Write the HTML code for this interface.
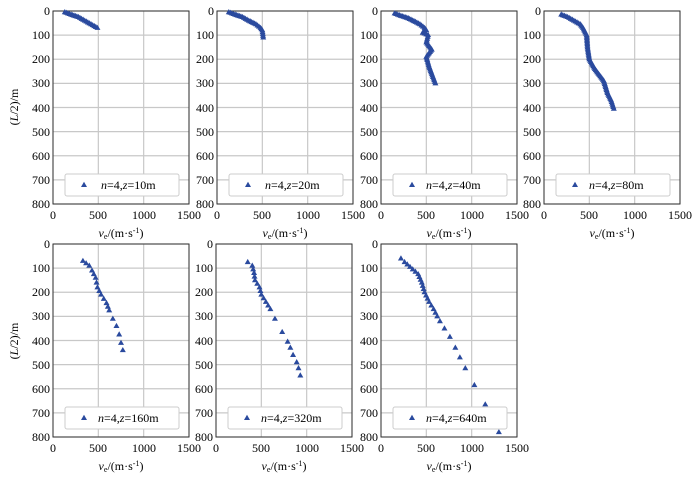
<!DOCTYPE html>
<html><head><meta charset="utf-8"><style>
body{margin:0;background:#fff}
svg, svg text, svg tspan{font-family:"Liberation Serif","Times New Roman",serif !important}
svg{font-size:12px}
.yl text{text-anchor:end}
.xl text{text-anchor:middle}
</style></head><body>
<svg id="s" width="700" height="480" viewBox="0 0 700 480" font-family="Liberation Serif, serif">
<rect width="700" height="480" fill="#fff"/>
<g id="p0" transform="translate(53,11)"></g>
<g id="p1" transform="translate(217,11)"></g>
<g id="p2" transform="translate(381,11)"></g>
<g id="p3" transform="translate(544,11)"></g>
<g id="p4" transform="translate(53,244)"></g>
<g id="p5" transform="translate(216,244)"></g>
<g id="p6" transform="translate(381,244)"></g>
<g id="L0" transform="translate(53,11)"><g class="yl"><text x="-3" y="4">0</text><text x="-3" y="28">100</text><text x="-3" y="52">200</text><text x="-3" y="76">300</text><text x="-3" y="101">400</text><text x="-3" y="125">500</text><text x="-3" y="149">600</text><text x="-3" y="173">700</text><text x="-3" y="197">800</text></g><g class="xl"><text x="0" y="208">0</text><text x="45" y="208">500</text><text x="91" y="208">1000</text><text x="136" y="208">1500</text><text x="68" y="226"><tspan font-style="italic">v</tspan><tspan font-size="8" dy="2">e</tspan><tspan dy="-2">/(m·s</tspan><tspan font-size="8" dy="-4">-1</tspan><tspan dy="4">)</tspan></text></g><text x="48" y="178"><tspan font-style="italic">n</tspan>=4,<tspan font-style="italic">z</tspan>=10m</text></g>
<g id="L1" transform="translate(217,11)"><g class="yl"><text x="-3" y="4">0</text><text x="-3" y="28">100</text><text x="-3" y="52">200</text><text x="-3" y="76">300</text><text x="-3" y="101">400</text><text x="-3" y="125">500</text><text x="-3" y="149">600</text><text x="-3" y="173">700</text><text x="-3" y="197">800</text></g><g class="xl"><text x="0" y="208">0</text><text x="45" y="208">500</text><text x="91" y="208">1000</text><text x="136" y="208">1500</text><text x="68" y="226"><tspan font-style="italic">v</tspan><tspan font-size="8" dy="2">e</tspan><tspan dy="-2">/(m·s</tspan><tspan font-size="8" dy="-4">-1</tspan><tspan dy="4">)</tspan></text></g><text x="48" y="178"><tspan font-style="italic">n</tspan>=4,<tspan font-style="italic">z</tspan>=20m</text></g>
<g id="L2" transform="translate(381,11)"><g class="yl"><text x="-3" y="4">0</text><text x="-3" y="28">100</text><text x="-3" y="52">200</text><text x="-3" y="76">300</text><text x="-3" y="101">400</text><text x="-3" y="125">500</text><text x="-3" y="149">600</text><text x="-3" y="173">700</text><text x="-3" y="197">800</text></g><g class="xl"><text x="0" y="208">0</text><text x="45" y="208">500</text><text x="91" y="208">1000</text><text x="136" y="208">1500</text><text x="68" y="226"><tspan font-style="italic">v</tspan><tspan font-size="8" dy="2">e</tspan><tspan dy="-2">/(m·s</tspan><tspan font-size="8" dy="-4">-1</tspan><tspan dy="4">)</tspan></text></g><text x="45" y="178"><tspan font-style="italic">n</tspan>=4,<tspan font-style="italic">z</tspan>=40m</text></g>
<g id="L3" transform="translate(544,11)"><g class="yl"><text x="-3" y="4">0</text><text x="-3" y="28">100</text><text x="-3" y="52">200</text><text x="-3" y="76">300</text><text x="-3" y="101">400</text><text x="-3" y="125">500</text><text x="-3" y="149">600</text><text x="-3" y="173">700</text><text x="-3" y="197">800</text></g><g class="xl"><text x="0" y="208">0</text><text x="45" y="208">500</text><text x="91" y="208">1000</text><text x="136" y="208">1500</text><text x="68" y="226"><tspan font-style="italic">v</tspan><tspan font-size="8" dy="2">e</tspan><tspan dy="-2">/(m·s</tspan><tspan font-size="8" dy="-4">-1</tspan><tspan dy="4">)</tspan></text></g><text x="45" y="178"><tspan font-style="italic">n</tspan>=4,<tspan font-style="italic">z</tspan>=80m</text></g>
<g id="L4" transform="translate(53,244)"><g class="yl"><text x="-3" y="4">0</text><text x="-3" y="28">100</text><text x="-3" y="52">200</text><text x="-3" y="76">300</text><text x="-3" y="101">400</text><text x="-3" y="125">500</text><text x="-3" y="149">600</text><text x="-3" y="173">700</text><text x="-3" y="197">800</text></g><g class="xl"><text x="0" y="208">0</text><text x="45" y="208">500</text><text x="91" y="208">1000</text><text x="136" y="208">1500</text><text x="68" y="226"><tspan font-style="italic">v</tspan><tspan font-size="8" dy="2">e</tspan><tspan dy="-2">/(m·s</tspan><tspan font-size="8" dy="-4">-1</tspan><tspan dy="4">)</tspan></text></g><text x="45" y="178"><tspan font-style="italic">n</tspan>=4,<tspan font-style="italic">z</tspan>=160m</text></g>
<g id="L5" transform="translate(216,244)"><g class="yl"><text x="-3" y="4">0</text><text x="-3" y="28">100</text><text x="-3" y="52">200</text><text x="-3" y="76">300</text><text x="-3" y="101">400</text><text x="-3" y="125">500</text><text x="-3" y="149">600</text><text x="-3" y="173">700</text><text x="-3" y="197">800</text></g><g class="xl"><text x="0" y="208">0</text><text x="45" y="208">500</text><text x="91" y="208">1000</text><text x="136" y="208">1500</text><text x="68" y="226"><tspan font-style="italic">v</tspan><tspan font-size="8" dy="2">e</tspan><tspan dy="-2">/(m·s</tspan><tspan font-size="8" dy="-4">-1</tspan><tspan dy="4">)</tspan></text></g><text x="45" y="178"><tspan font-style="italic">n</tspan>=4,<tspan font-style="italic">z</tspan>=320m</text></g>
<g id="L6" transform="translate(381,244)"><g class="yl"><text x="-3" y="4">0</text><text x="-3" y="28">100</text><text x="-3" y="52">200</text><text x="-3" y="76">300</text><text x="-3" y="101">400</text><text x="-3" y="125">500</text><text x="-3" y="149">600</text><text x="-3" y="173">700</text><text x="-3" y="197">800</text></g><g class="xl"><text x="0" y="208">0</text><text x="45" y="208">500</text><text x="91" y="208">1000</text><text x="136" y="208">1500</text><text x="68" y="226"><tspan font-style="italic">v</tspan><tspan font-size="8" dy="2">e</tspan><tspan dy="-2">/(m·s</tspan><tspan font-size="8" dy="-4">-1</tspan><tspan dy="4">)</tspan></text></g><text x="45" y="178"><tspan font-style="italic">n</tspan>=4,<tspan font-style="italic">z</tspan>=640m</text></g>
<text transform="translate(18,107) rotate(-90)" text-anchor="middle">(<tspan font-style="italic">L</tspan>/2)/m</text>
<text transform="translate(18,341) rotate(-90)" text-anchor="middle">(<tspan font-style="italic">L</tspan>/2)/m</text>
</svg>
<script>
var NS="http://www.w3.org/2000/svg";
function el(p,t,a){var e=document.createElementNS(NS,t);for(var k in a)e.setAttribute(k,a[k]);p.appendChild(e);return e;}
var W=136,H=193;
var data=[
 [[130,5],[200,15],[280,25],[350,40],[420,55],[490,70]],
 [[130,5],[200,15],[280,25],[350,40],[430,55],[480,70],[500,80],[510,110]],
 [[150,10],[220,20],[300,30],[380,45],[430,55],[480,70],[500,80],[460,90],[520,100],[500,130],[560,160],[500,190],[530,230],[560,260],[600,300]],
 [[190,15],[260,25],[330,40],[400,55],[430,70],[470,100],[480,150],[500,200],[560,240],[620,270],[660,290],[700,340],[740,370],[770,405]],
 [[330,70],[400,90],[430,110],[470,140],[490,180],[530,210],[590,245],[620,275],[660,310],[700,340],[730,375],[750,410],[770,440]],
 [[350,75],[400,90],[420,120],[430,150],[480,180],[500,210],[550,240],[600,270],[650,310],[730,365],[790,405],[820,430],[850,460],[890,490],[910,515],[930,545]],
 [[220,60],[260,75],[320,95],[410,125],[450,160],[480,200],[530,240],[580,270],[620,300],[650,320],[700,350],[760,385],[820,430],[870,470],[930,515],[1030,585],[1150,665],[1300,780]]
];
for(var i=0;i<7;i++){
 var g=document.getElementById("p"+i);
 for(var v=0;v<=1500;v+=500){var x=v/1500*W;el(g,"line",{x1:x,x2:x,y1:0,y2:H,stroke:"#c8c8c8","stroke-width":1.2});}
 for(var d=0;d<=800;d+=100){var y=d/800*H;el(g,"line",{x1:0,x2:W,y1:y,y2:y,stroke:"#c8c8c8","stroke-width":1.2});}
 el(g,"rect",{x:0,y:0,width:W,height:H,fill:"none",stroke:"#333","stroke-width":1});
 var pts=data[i];
 function tri(x,y){el(g,"path",{d:"M"+x+","+(y-3.2)+"L"+(x+3)+","+(y+2)+"L"+(x-3)+","+(y+2)+"Z",fill:"#2a4a9e"});}
 function triD(v,d){tri(v/1500*W,d/800*H);}
 for(var k=0;k<pts.length;k++){
  triD(pts[k][0],pts[k][1]);
  if(k<pts.length-1){var a=pts[k],b=pts[k+1];var dist=Math.hypot((b[0]-a[0])/1500*W,(b[1]-a[1])/800*H);
   var n=Math.floor(dist/(i<4?1.5:(i==6?3:3.5)));if(i>=4&&b[1]>300)n=Math.min(n,1);
   for(var j=1;j<n;j++){var t=j/n;triD(a[0]+(b[0]-a[0])*t,a[1]+(b[1]-a[1])*t);}}
 }
 el(g,"rect",{x:12,y:163,width:114,height:22,rx:2,fill:"#fff",stroke:"#ccc","stroke-width":1});
 tri(31,174);
 document.getElementById("s").appendChild(document.getElementById("L"+i));
}
</script>
</body></html>
